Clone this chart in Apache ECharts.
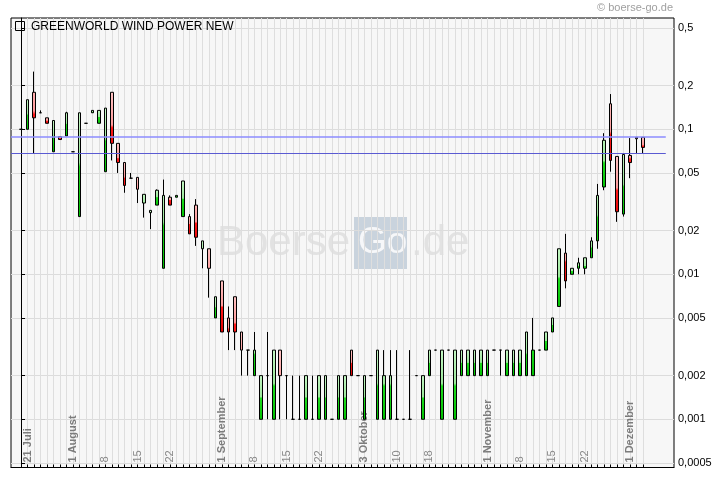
<!DOCTYPE html>
<html><head><meta charset="utf-8">
<script src="https://cdn.jsdelivr.net/npm/echarts@6/dist/echarts.min.js"></script>
<style>html,body{margin:0;padding:0;background:#fff}#c{width:720px;height:481px}</style>
</head><body><div id="c"></div>
<script>
// trading days (category of each candle)
const dates = ['20.07','21.07','22.07','25.07','26.07','27.07','28.07','29.07',
'01.08','02.08','03.08','04.08','05.08','08.08','09.08','10.08','11.08','12.08',
'15.08','16.08','17.08','18.08','19.08','22.08','23.08','24.08','25.08','26.08',
'29.08','30.08','31.08','01.09','02.09','05.09','06.09','07.09','08.09','09.09',
'12.09','13.09','14.09','15.09','16.09','19.09','20.09','21.09','22.09','23.09',
'26.09','27.09','28.09','29.09','30.09','03.10','04.10','05.10','06.10','07.10',
'10.10','11.10','12.10','13.10','14.10','18.10','19.10','20.10','21.10',
'24.10','25.10','26.10','27.10','31.10','01.11','02.11','03.11','04.11',
'07.11','08.11','09.11','10.11','11.11','14.11','15.11','16.11','17.11','18.11',
'21.11','22.11','23.11','24.11','25.11','28.11','29.11','30.11','01.12','02.12','05.12'];

const open = [
0.1,0.1,0.18,0.13,0.12,0.07,0.089,0.09,0.07,0.025,
0.11,0.13,0.11,0.051,0.18,0.08,0.059,0.046,0.0466,0.031,
0.0266,0.03,0.011,0.034,0.034,0.025,0.025,0.03,0.015,0.015,
0.005,0.009,0.005,0.007,0.004,0.003,0.002,0.001,0.002,0.001,
0.003,0.002,0.001,0.001,0.001,0.001,0.001,0.001,0.001,0.001,
0.001,0.003,0.002,0.001,0.002,0.001,0.001,0.001,0.001,0.001,
0.001,0.002,0.001,0.002,0.003,0.001,0.003,0.001,0.002,0.002,
0.002,0.002,0.002,0.003,0.003,0.002,0.002,0.002,0.002,0.002,
0.003,0.003,0.004,0.006,0.014,0.01,0.011,0.011,0.013,0.017,
0.04,0.15,0.065,0.026,0.066,0.088,0.088];
const close = [
0.1,0.16,0.12,0.13,0.11,0.115,0.085,0.13,0.07,0.13,
0.11,0.135,0.135,0.14,0.08,0.059,0.041,0.046,0.0386,0.0356,
0.0276,0.038,0.035,0.03,0.035,0.044,0.019,0.018,0.017,0.011,
0.007,0.004,0.004,0.004,0.003,0.003,0.003,0.002,0.002,0.003,
0.002,0.002,0.001,0.001,0.002,0.001,0.002,0.002,0.001,0.002,
0.002,0.002,0.002,0.002,0.002,0.003,0.002,0.002,0.001,0.001,
0.001,0.002,0.002,0.003,0.003,0.003,0.003,0.003,0.003,0.003,
0.003,0.003,0.003,0.003,0.003,0.003,0.003,0.003,0.004,0.003,
0.003,0.004,0.005,0.015,0.009,0.011,0.012,0.013,0.017,0.035,
0.084,0.061,0.027,0.067,0.059,0.086,0.075];
const low = [
0.1,0.1,0.068,0.13,0.11,0.07,0.085,0.09,0.07,0.025,
0.11,0.13,0.11,0.051,0.061,0.05,0.0365,0.046,0.031,0.0246,
0.0205,0.03,0.011,0.03,0.034,0.025,0.019,0.0157,0.011,0.0069,
0.005,0.004,0.003,0.003,0.002,0.002,0.002,0.001,0.001,0.001,
0.001,0.001,0.001,0.001,0.001,0.001,0.001,0.001,0.001,0.001,
0.001,0.002,0.002,0.001,0.002,0.001,0.001,0.001,0.001,0.001,
0.001,0.002,0.001,0.002,0.003,0.001,0.003,0.001,0.002,0.002,
0.002,0.002,0.002,0.003,0.002,0.002,0.002,0.002,0.002,0.002,
0.003,0.003,0.004,0.006,0.008,0.01,0.01,0.01,0.013,0.015,
0.038,0.051,0.023,0.025,0.046,0.068,0.068];
const high = [
0.1,0.16,0.25,0.135,0.12,0.115,0.089,0.132,0.07,0.13,
0.11,0.135,0.135,0.14,0.18,0.08,0.059,0.05,0.0466,0.0356,
0.0276,0.0385,0.045,0.035,0.035,0.044,0.026,0.033,0.017,0.015,
0.007,0.009,0.006,0.007,0.004,0.003,0.004,0.002,0.004,0.003,
0.003,0.002,0.002,0.002,0.002,0.002,0.002,0.002,0.001,0.002,
0.002,0.003,0.002,0.002,0.002,0.003,0.003,0.003,0.003,0.001,
0.003,0.002,0.002,0.003,0.003,0.003,0.003,0.003,0.003,0.003,
0.003,0.003,0.003,0.003,0.003,0.003,0.003,0.003,0.004,0.005,
0.003,0.004,0.005,0.015,0.019,0.011,0.013,0.013,0.018,0.042,
0.094,0.175,0.065,0.067,0.087,0.088,0.088];

const yTicks = [0.0005,0.001,0.002,0.005,0.01,0.02,0.05,0.1,0.2,0.5];
const xLabelDates = ['21.07','01.08','08.08','15.08','22.08','01.09','08.09','15.09','22.09',
                     '03.10','10.10','18.10','01.11','08.11','15.11','22.11','01.12'];
const xLabelTexts = ['21 Juli','1 August','8','15','22','1 September','8','15','22',
                     '3 Oktober','10','18','1 November','8','15','22','1 Dezember'];
const monthLabels = ['21 Juli','1 August','1 September','3 Oktober','1 November','1 Dezember'];
const refLines = [0.089, 0.068];
const title = 'GREENWORLD WIND POWER NEW';

const candles = dates.map((d, i) => [i, open[i], close[i], low[i], high[i]]);
const tickIdx = dates.map((d, i) => i);
const labelIdx = xLabelDates.map(d => dates.indexOf(d));
const X_MIN = -1.55, X_MAX = 100.77, LINE_END = 99.5;

function grad(c) {
  return {type:'linear', x:0, y:0, x2:0, y2:1, colorStops:[
    {offset:0, color:c[0]}, {offset:0.48, color:c[1]}, {offset:0.52, color:c[2]}, {offset:1, color:c[3]}]};
}
const F = '"Liberation Sans", Arial, sans-serif';

const chart = echarts.init(document.getElementById('c'), null, {renderer:'canvas'});
chart.setOption({
  animation: false,
  backgroundColor: '#ffffff',
  grid: {left: 11, right: 46, top: 18, bottom: 13.5, show: true,
         backgroundColor: 'transparent', borderColor: '#000', borderWidth: 1},
  graphic: [
    {type:'rect', z:-10, shape:{x:11, y:18, width:663, height:449.5}, style:{fill:'#f7f7f7'}},
    {type:'rect', z:-5, shape:{x:354, y:217, width:53, height:52}, style:{fill:'#c9d3dd'}},
    {type:'text', z:-5, style:{text:'Boerse', x:217, y:243, font:'42px ' + F, fill:'#e2e2e2',
      textVerticalAlign:'middle', verticalAlign:'middle'}},
    {type:'text', z:-5, style:{text:'Go', x:358, y:243, font:'37px ' + F, fill:'#f6f7f9',
      textVerticalAlign:'middle', verticalAlign:'middle'}},
    {type:'text', z:-5, style:{text:'.de', x:411, y:243, font:'42px ' + F, fill:'#e2e2e2',
      textVerticalAlign:'middle', verticalAlign:'middle'}},
    {type:'rect', z:10, shape:{x:15.5, y:21.5, width:9, height:9}, style:{fill:'none', stroke:'#000', lineWidth:1}},
    {type:'text', z:10, style:{text:title, x:31, y:26.5, font:'12px ' + F, fill:'#000',
      textVerticalAlign:'middle', verticalAlign:'middle'}},
    {type:'text', z:10, style:{text:'\u00a9 boerse-go.de', x:673, y:7.5, font:'11px ' + F, fill:'#a0a0a0',
      textAlign:'right', align:'right', textVerticalAlign:'middle', verticalAlign:'middle'}}
  ],
  xAxis: {
    type: 'value', min: X_MIN, max: X_MAX,
    axisLine: {show: true, onZero: false, lineStyle: {color: '#000', width: 1}},
    axisTick: {show: true, inside: true, length: 3, customValues: tickIdx, lineStyle: {color: '#000'}},
    axisLabel: {
      customValues: labelIdx, inside: true, rotate: 90, margin: 5,
      fontFamily: F, fontSize: 11, color: '#8a8a8a',
      formatter: v => {
        const t = xLabelTexts[labelIdx.indexOf(Math.round(v))] || '';
        return monthLabels.indexOf(t) >= 0 ? '{b|' + t + '}' : '{n|' + t + '}';
      },
      rich: {
        b: {fontFamily: F, fontSize: 11, fontWeight: 'bold', color: '#7c7c7c'},
        n: {fontFamily: F, fontSize: 11, color: '#888888'}
      }
    },
    splitLine: {show: true, lineStyle: {color: '#dedede', width: 1}}
  },
  yAxis: {
    type: 'log', logBase: 10, position: 'right', min: 0.000465, max: 0.5856,
    axisLine: {show: true, lineStyle: {color: '#000', width: 1}},
    axisTick: {show: true, inside: false, length: 4, customValues: yTicks, lineStyle: {color: '#000'}},
    axisLabel: {customValues: yTicks, margin: 4, color: '#000', fontFamily: F, fontSize: 11,
      formatter: v => String(+(+v).toPrecision(6)).replace('.', ',')},
    splitLine: {show: true, lineStyle: {color: '#dcdcdc', width: 1}},
    minorTick: {show: false}, minorSplitLine: {show: false}
  },
  series: [{
    type: 'candlestick',
    data: candles,
    encode: {x: 0, y: [1, 2, 3, 4]},
    barWidth: 3,
    itemStyle: {
      color: grad(['#c4f6c4', '#9ce89c', '#1edc1e', '#00c000']),
      color0: grad(['#ffc4c4', '#ff9a9a', '#ff1c1c', '#dd0000']),
      borderColor: '#000', borderColor0: '#000', borderColorDoji: '#000', borderWidth: 1
    },
    markLine: {
      silent: true, symbol: 'none', label: {show: false}, animation: false,
      data: [
        [{coord: [X_MIN, refLines[0]], lineStyle: {color: '#8c8cff', width: 1.5, type: 'solid'}},
         {coord: [LINE_END, refLines[0]]}],
        [{coord: [X_MIN, refLines[1]], lineStyle: {color: '#5a5ad2', width: 1, type: 'solid'}},
         {coord: [LINE_END, refLines[1]]}]
      ]
    }
  }]
});
</script></body></html>
